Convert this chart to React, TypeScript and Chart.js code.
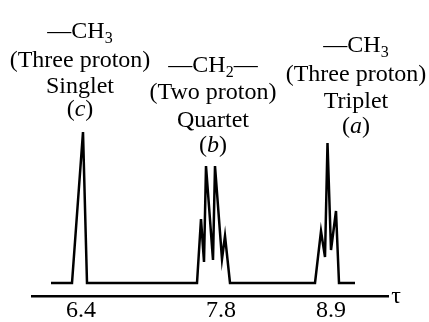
import React, { useEffect, useRef } from 'react';
import { Chart, registerables } from 'chart.js';

Chart.register(...registerables);

// Spectrum trace (chemical shift τ, relative intensity)
const tau = [6.10, 6.31, 6.42, 6.46, 7.56, 7.60, 7.63, 7.65, 7.72, 7.74, 7.81, 7.84, 7.89, 8.74, 8.80, 8.84, 8.865, 8.90, 8.95, 8.98, 9.14];
const intensity = [0, 0, 151, 0, 0, 64, 21, 117, 23, 117, 24, 47, 0, 0, 52, 26, 140, 33, 72, 0, 0];

// Axis ticks
const tickValues = [6.4, 7.8, 8.9];
const tickLabels = ['6.4', '7.8', '8.9'];
const axisSymbol = 'τ';

// Peak annotations
const groupTau = [6.42, 7.70, 8.87];
const groupFormulaMain = ['—CH', '—CH', '—CH'];
const groupFormulaSub = ['3', '2', '3'];
const groupFormulaPost = ['', '—', ''];
const groupProtons = ['(Three proton)', '(Two proton)', '(Three proton)'];
const groupMultiplicity = ['Singlet', 'Quartet', 'Triplet'];
const groupLetter = ['c', 'b', 'a'];

// Styling / layout
const FAMILY = "'Liberation Serif', 'Times New Roman', serif";
const SIZE = 24;
const SUB_SIZE = 16;
const groupDx = [-3, 2, 28];
const groupBaselines = [
  [38, 67, 93, 116],
  [72, 99, 127, 152],
  [52, 81, 108, 133],
];

type Part = { text: string; font: string; dy: number };

function drawRich(ctx: CanvasRenderingContext2D, parts: Part[], cx: number, y: number) {
  const widths = parts.map((p) => {
    ctx.font = p.font;
    return ctx.measureText(p.text).width;
  });
  const total = widths.reduce((a, b) => a + b, 0);
  let x = cx - total / 2;
  ctx.textAlign = 'left';
  ctx.textBaseline = 'alphabetic';
  parts.forEach((p, i) => {
    ctx.font = p.font;
    ctx.fillText(p.text, x, y + p.dy);
    x += widths[i];
  });
}

const annotationPlugin = {
  id: 'nmrAnnotations',
  afterDraw(chart: any) {
    const ctx: CanvasRenderingContext2D = chart.ctx;
    const xs = chart.scales.x;
    const area = chart.chartArea;
    const normal = `${SIZE}px ${FAMILY}`;
    const italic = `italic ${SIZE}px ${FAMILY}`;
    const sub = `${SUB_SIZE}px ${FAMILY}`;
    ctx.save();
    ctx.fillStyle = '#000';
    groupTau.forEach((t, i) => {
      const cx = xs.getPixelForValue(t) + groupDx[i];
      const b = groupBaselines[i];
      const formula: Part[] = [
        { text: groupFormulaMain[i], font: normal, dy: 0 },
        { text: groupFormulaSub[i], font: sub, dy: 5 },
      ];
      if (groupFormulaPost[i]) formula.push({ text: groupFormulaPost[i], font: normal, dy: 0 });
      drawRich(ctx, formula, cx, b[0]);
      drawRich(ctx, [{ text: groupProtons[i], font: normal, dy: 0 }], cx, b[1]);
      drawRich(ctx, [{ text: groupMultiplicity[i], font: normal, dy: 0 }], cx, b[2]);
      drawRich(
        ctx,
        [
          { text: '(', font: normal, dy: 0 },
          { text: groupLetter[i], font: italic, dy: 0 },
          { text: ')', font: normal, dy: 0 },
        ],
        cx,
        b[3]
      );
    });
    // axis symbol τ at the right end of the axis
    ctx.font = `${SIZE}px ${FAMILY}`;
    ctx.textAlign = 'center';
    ctx.textBaseline = 'alphabetic';
    ctx.fillText(axisSymbol, area.right + 8, area.bottom + 7);
    ctx.restore();
  },
};

export default function App() {
  const canvasRef = useRef<HTMLCanvasElement | null>(null);

  useEffect(() => {
    document.body.style.margin = '0';
    const canvas = canvasRef.current;
    if (!canvas) return;
    const chart = new Chart(canvas, {
      type: 'line',
      data: {
        datasets: [
          {
            data: tau.map((t, i) => ({ x: t, y: intensity[i] })),
            borderColor: '#000',
            borderWidth: 2.5,
            pointRadius: 0,
            tension: 0,
            fill: false,
          },
        ],
      },
      options: {
        responsive: false,
        animation: false,
        devicePixelRatio: 1,
        layout: { padding: { left: 32, right: 41, top: 0, bottom: 0 } },
        plugins: { legend: { display: false }, tooltip: { enabled: false } },
        scales: {
          x: {
            type: 'linear',
            min: 5.91,
            max: 9.47,
            afterBuildTicks: (s: any) => {
              s.ticks = tickValues.map((v) => ({ value: v }));
            },
            afterFit: (s: any) => {
              s.height = 26;
            },
            ticks: {
              autoSkip: false,
              maxRotation: 0,
              padding: 3,
              color: '#000',
              font: { family: FAMILY, size: SIZE, lineHeight: 1 },
              callback: (v: any) => {
                const idx = tickValues.findIndex((tv) => Math.abs(tv - Number(v)) < 1e-9);
                return idx >= 0 ? tickLabels[idx] : '';
              },
            },
            grid: { display: false, drawTicks: false },
            border: { display: true, color: '#000', width: 2.5 },
          },
          y: { display: false, min: -13, max: 283 },
        },
      },
      plugins: [annotationPlugin],
    } as any);
    return () => chart.destroy();
  }, []);

  return (
    <div style={{ width: 429, height: 322, background: '#fff' }}>
      <canvas ref={canvasRef} width={429} height={322} style={{ display: 'block' }} />
    </div>
  );
}
